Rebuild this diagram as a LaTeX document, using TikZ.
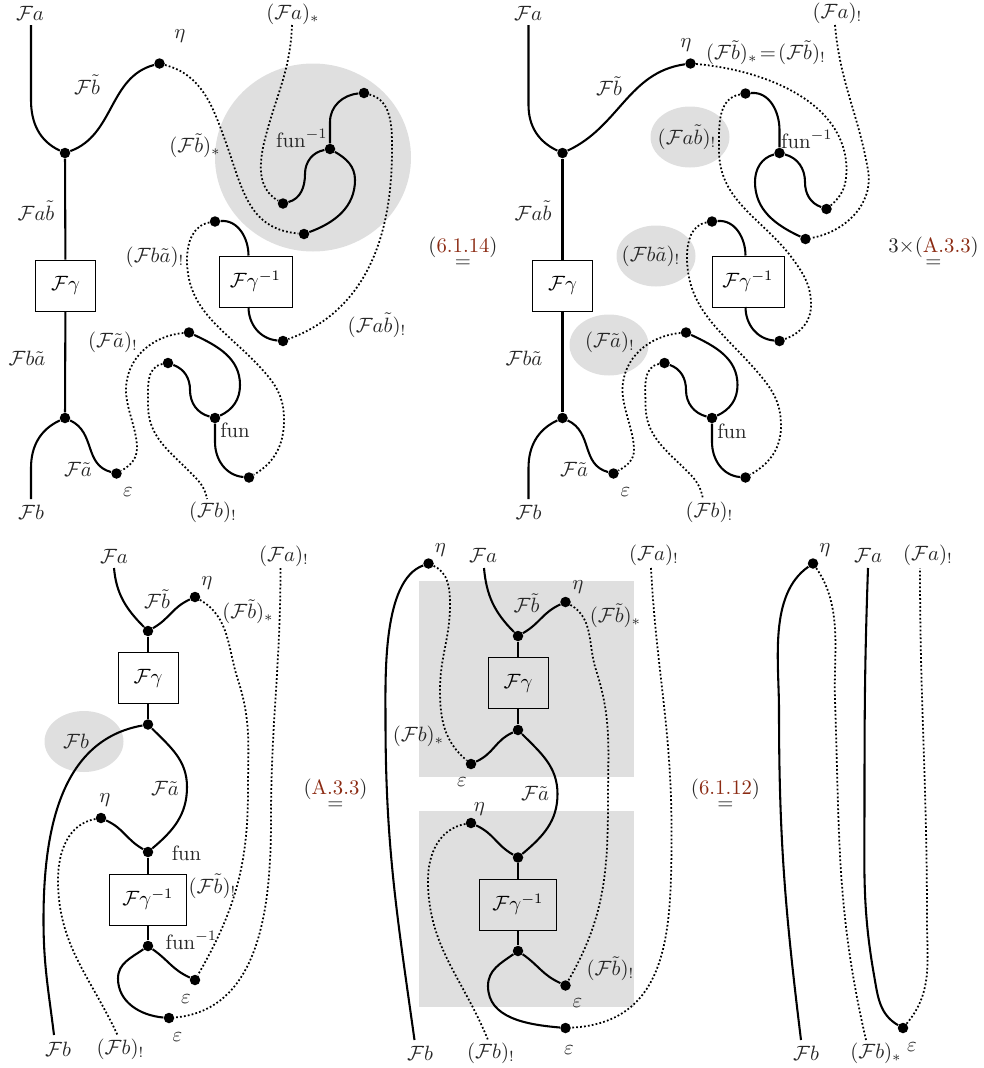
\documentclass[tikz,border=0pt]{standalone}
\usepackage{amsmath}
\usetikzlibrary{shapes.geometric}

\newcommand{\Ff}{\mathcal{F}}
\newcommand{\px}{0.483pt}
\definecolor{refred}{RGB}{139,42,18}

\tikzset{
  wire/.style={line width=1pt},
  dotwire/.style={line width=0.85pt, dash pattern=on 0.85pt off 1.05pt},
  dot/.style={circle, fill=black, inner sep=0pt, minimum size=10.5*\px},
  lab/.style={inner sep=0pt, text=black!85},
  blob/.style={ellipse, fill=gray!25, inner sep=0pt, minimum width=79*\px, minimum height=61*\px},
  eqn/.style={inner sep=0pt, align=center, text=black!85},
}

\begin{document}
\begin{tikzpicture}[x=\px, y=\px]
  \useasboundingbox (0,0) rectangle (983,-1068);

  % grey regions
  \node[blob, minimum width=196*\px, minimum height=188*\px] (acloud) at (313,-157.5) {};
  \node[blob] (bcloudi) at (690,-137) {};
  \node[blob] (bcloudii) at (656,-256) {};
  \node[blob] (bcloudiii) at (609,-345) {};
  \node[blob] (ccloud) at (84,-741.5) {};
  \fill[gray!25] (419,-581) rectangle (634,-777);
  \fill[gray!25] (419,-811) rectangle (634,-1007);

  % vertices
  \foreach \n/\x/\y in {
    avi/65/153, avii/65/418, aeta/159.5/63.5, aeps/116.5/473.5,
    afuninv/330/149, atop/364/93, aleft/283/203.5, abot/304/234,
    aup/215/221.5, adown/283/341, afun/215/418, acup/189/332.5, acupi/168/363, acap/249/477.5,
    bvi/562.5/153, bvii/562.5/418, beta/690.5/63.5, beps/613.5/473.5,
    bfuninv/779.5/153, btop/745.5/93.5, bright/826.5/209, bbot/805.5/239,
    bup/712/221.5, bdown/779.5/341, bfun/712/418, bcup/686/332.5, bcupi/664.5/363, bcap/745.5/477.5,
    cvi/148/631, ceta/195/597, cvii/148/724.5, cetai/101/818, cviii/148/852,
    cvv/148/946, cepsi/195/980, cepsii/169/1018,
    deta/428.5/563.5, dvi/518/636, detai/565.5/602, dvii/518/730, depsi/471/764,
    detaii/471/823, dviii/518/857.5, dvv/518/951, depsii/565.5/985.5, depsiii/565.5/1028,
    eeta/813/563.5, eeps/903/1028%
  } {
    \node[dot] (\n) at (\x,-\y) {};
  }

  % free ends of the strands
  \foreach \n/\x/\y in {
    aFa/31/25, aFb/31/499, aFas/292/25, aFbs/207/499, aboxup/248.5/255.5, aboxdn/248.5/307,
    bFa/528.5/25, bFb/528.5/499, bFas/835/25, bFbs/703/499, bboxup/745.5/255.5, bboxdn/745.5/307,
    cFa/114/568, cFas/280.5/568, cFb/54/1035, cFbs/117.5/1035,
    dFa/484/568, dFas/651/568, dFb/414.5/1040, dFbs/488/1040,
    eFa/868/568, eFas/920/568, eFb/801/1040, eFbs/866/1040%
  } {
    \coordinate (\n) at (\x,-\y);
  }

  % boxes
  \node[draw, minimum width=60*\px, minimum height=51*\px] (abox) at (65.5,-285.5) {$\Ff\gamma$};
  \node[draw, minimum width=73*\px, minimum height=51*\px] (aboxi) at (255.5,-281.5) {$\Ff\gamma^{-1}$};
  \node[draw, minimum width=60*\px, minimum height=51*\px] (bbox) at (562.5,-285.5) {$\Ff\gamma$};
  \node[draw, minimum width=72*\px, minimum height=51*\px] (bboxi) at (748,-281.5) {$\Ff\gamma^{-1}$};
  \node[draw, minimum width=60*\px, minimum height=51*\px] (cbox) at (148,-678) {$\Ff\gamma$};
  \node[draw, minimum width=77*\px, minimum height=51*\px] (cboxi) at (148,-899.5) {$\Ff\gamma^{-1}$};
  \node[draw, minimum width=60*\px, minimum height=51*\px] (dbox) at (518,-683) {$\Ff\gamma$};
  \node[draw, minimum width=77*\px, minimum height=51*\px] (dboxi) at (518,-904.5) {$\Ff\gamma^{-1}$};

  % first picture
  \draw[wire] (aFa) -- (31,-100) to[out=-90,in=155] (avi);
  \draw[wire] (avi) to[out=20,in=195] (aeta);
  \draw[wire] (avi) -- (abox);
  \draw[wire] (abox) -- (avii);
  \draw[wire] (aFb) -- (31,-468) to[out=90,in=205] (avii);
  \draw[wire] (avii) to[out=-25,in=165,looseness=1.1] (aeps);
  \draw[wire] (afuninv) -- (330,-122) to[out=90,in=185] (atop);
  \draw[wire] (afuninv) to[out=190,in=90] (305,-174) to[out=-90,in=15] (aleft);
  \draw[wire] (afuninv) to[out=-30,in=90] (355,-180) to[out=-90,in=20] (abot);
  \draw[wire] (aup) to[out=5,in=90] (aboxup);
  \draw[wire] (aboxdn) to[out=-90,in=175] (adown);
  \draw[wire] (acup) to[out=-25,in=90] (240,-385) to[out=-90,in=25] (afun);
  \draw[wire] (acupi) to[out=-20,in=90] (190,-390) to[out=-90,in=165] (afun);
  \draw[wire] (afun) -- (215,-442) to[out=-90,in=175] (acap);
  \draw[dotwire] (aeta) to[out=-15,in=110] (225,-140) to[out=-70,in=175,looseness=1.1] (abot);
  \draw[dotwire] (aFas) to[out=-92,in=75] (266,-135) to[out=-105,in=150] (aleft);
  \draw[dotwire] (atop) to[out=-15,in=90] (392,-150) to[out=-90,in=20] (adown);
  \draw[dotwire] (aup) to[out=190,in=90] (187,-260) to[out=-90,in=130] (267,-375) to[out=-50,in=90] (284,-420) to[out=-90,in=30] (acap);
  \draw[dotwire] (acup) to[out=185,in=90] (126,-390) to[out=-90,in=90,looseness=.8] (137,-448) to[out=-90,in=30] (aeps);
  \draw[dotwire] (acupi) to[out=190,in=90] (148,-405) to[out=-90,in=135] (190,-472) to[out=-45,in=100] (aFbs);

  % second picture
  \draw[wire] (bFa) -- (528.5,-105) to[out=-90,in=155] (bvi);
  \draw[wire] (bvi) to[out=25,in=188] (beta);
  \draw[wire] (bvi) -- (bbox);
  \draw[wire] (bbox) -- (bvii);
  \draw[wire] (bFb) -- (528.5,-468) to[out=90,in=205] (bvii);
  \draw[wire] (bvii) to[out=-25,in=165,looseness=1.1] (beps);
  \draw[wire] (btop) to[out=5,in=90] (779.5,-130) -- (bfuninv);
  \draw[wire] (bfuninv) to[out=-15,in=90] (805,-182) to[out=-90,in=160] (bright);
  \draw[wire] (bfuninv) to[out=195,in=90] (755,-182) to[out=-90,in=155] (bbot);
  \draw[wire] (bup) to[out=5,in=90] (bboxup);
  \draw[wire] (bboxdn) to[out=-90,in=175] (bdown);
  \draw[wire] (bcup) to[out=-25,in=90] (737.5,-385) to[out=-90,in=25] (bfun);
  \draw[wire] (bcupi) to[out=-20,in=90] (686,-390) to[out=-90,in=165] (bfun);
  \draw[wire] (bfun) -- (712,-442) to[out=-90,in=175] (bcap);
  \draw[dotwire] (beta) to[out=-5,in=90,looseness=.95] (846.5,-170) to[out=-90,in=40] (bright);
  \draw[dotwire] (bFas) to[out=-85,in=100] (868,-170) to[out=-80,in=10] (bbot);
  \draw[dotwire] (btop) to[out=190,in=90] (719,-150) to[out=-90,in=125] (795,-262) to[out=-55,in=90] (811,-305) to[out=-90,in=20] (bdown);
  \draw[dotwire] (bup) to[out=190,in=90] (687,-257) to[out=-90,in=130] (760,-375) to[out=-50,in=90] (781,-426) to[out=-90,in=30] (bcap);
  \draw[dotwire] (bcup) to[out=185,in=90] (622.5,-390) to[out=-90,in=90,looseness=.8] (634,-450) to[out=-90,in=30] (beps);
  \draw[dotwire] (bcupi) to[out=190,in=90] (645.5,-405) to[out=-90,in=135] (688,-472) to[out=-45,in=100] (bFbs);

  % third picture
  \draw[wire] (cFa) to[out=-85,in=135] (cvi);
  \draw[wire] (cvi) to[out=30,in=205,looseness=1.1] (ceta);
  \draw[wire] (cvi) -- (cbox);
  \draw[wire] (cbox) -- (cvii);
  \draw[wire] (cvii) to[out=190,in=90] (43.5,-920) to[out=-90,in=97] (cFb);
  \draw[wire] (cvii) to[out=-45,in=90] (187,-787) to[out=-90,in=40] (cviii);
  \draw[wire] (cetai) to[out=-25,in=150,looseness=1.1] (cviii);
  \draw[wire] (cviii) -- (cboxi);
  \draw[wire] (cboxi) -- (cvv);
  \draw[wire] (cvv) to[out=-35,in=155,looseness=1.1] (cepsi);
  \draw[wire] (cvv) to[out=215,in=90] (118,-978.5) to[out=-90,in=175] (cepsii);
  \draw[dotwire] (ceta) to[out=-30,in=108] (238,-680) to[out=-72,in=90] (248,-790) to[out=-90,in=60] (cepsi);
  \draw[dotwire] (cFas) to[out=-90,in=90] (271,-820) to[out=-90,in=5] (cepsii);
  \draw[dotwire] (cetai) to[out=190,in=90] (58,-880) to[out=-90,in=115] (cFbs);

  % fourth picture
  \draw[wire] (deta) to[out=200,in=90,looseness=.7] (385.5,-720) to[out=-90,in=98] (dFb);
  \draw[wire] (dFa) to[out=-85,in=135] (dvi);
  \draw[wire] (dvi) to[out=30,in=205,looseness=1.1] (detai);
  \draw[wire] (dvi) -- (dbox);
  \draw[wire] (dbox) -- (dvii);
  \draw[wire] (dvii) to[out=205,in=25,looseness=1.1] (depsi);
  \draw[wire] (dvii) to[out=-45,in=90] (557.5,-794) to[out=-90,in=40] (dviii);
  \draw[wire] (detaii) to[out=-25,in=150,looseness=1.1] (dviii);
  \draw[wire] (dviii) -- (dboxi);
  \draw[wire] (dboxi) -- (dvv);
  \draw[wire] (dvv) to[out=-35,in=155,looseness=1.1] (depsii);
  \draw[wire] (dvv) to[out=215,in=90] (488,-986) to[out=-90,in=175] (depsiii);
  \draw[dotwire] (deta) to[out=-25,in=90] (450,-605) to[out=-90,in=90] (440,-690) to[out=-90,in=140] (depsi);
  \draw[dotwire] (detai) to[out=-30,in=108] (596,-670) to[out=-72,in=90] (608,-800) to[out=-90,in=60] (depsii);
  \draw[dotwire] (dFas) to[out=-87,in=90] (671.5,-830) to[out=-90,in=3,looseness=1.15] (depsiii);
  \draw[dotwire] (detaii) to[out=190,in=90] (428,-880) to[out=-90,in=112] (dFbs);

  % fifth picture
  \draw[wire] (eeta) to[out=215,in=90,looseness=.85] (779,-710) to[out=-90,in=97] (eFb);
  \draw[wire] (eFa) to[out=-92,in=90] (864.5,-800) to[out=-90,in=100] (874,-975) to[out=-80,in=150] (eeps);
  \draw[dotwire] (eeta) to[out=-55,in=92,looseness=.9] (835,-700) to[out=-88,in=103] (eFbs);
  \draw[dotwire] (eeps) to[out=50,in=-90] (927,-920) to[out=90,in=-90] (eFas);

  % labels, first picture
  \node[lab] (laFa) at (30,-13) {$\Ff a$};
  \node[lab] (laeta) at (180,-36.5) {$\eta$};
  \node[lab] (laFas) at (293,-14) {$(\Ff a)_*$};
  \node[lab] (laFtb) at (87,-84.5) {$\Ff\tilde b$};
  \node[lab] (laFbts) at (195,-145.5) {$(\Ff\tilde b)_*$};
  \node[lab] (lafuninv) at (302,-138.5) {$\mathrm{fun}^{-1}$};
  \node[lab] (laFab) at (36,-210.5) {$\Ff a\tilde b$};
  \node[lab] (laFba) at (155,-257) {$(\Ff b\tilde a)_!$};
  \node[lab] (laFabs) at (377,-325) {$(\Ff a\tilde b)_!$};
  \node[lab] (laFat) at (113,-342.5) {$(\Ff\tilde a)_!$};
  \node[lab] (laFbb) at (27,-358.5) {$\Ff b\tilde a$};
  \node[lab] (lafun) at (235,-430.5) {$\mathrm{fun}$};
  \node[lab] (laFta) at (78,-469.5) {$\Ff\tilde a$};
  \node[lab] (laeps) at (128,-492) {$\varepsilon$};
  \node[lab] (laFb) at (31,-512.5) {$\Ff b$};
  \node[lab] (laFbe) at (213,-512.5) {$(\Ff b)_!$};

  % labels, second picture
  \node[lab] (lbFa) at (528,-13) {$\Ff a$};
  \node[lab] (lbeta) at (686,-45) {$\eta$};
  \node[lab] (lbFas) at (837.5,-13) {$(\Ff a)_!$};
  \node[lab] (lbeq) at (766,-52.5) {$(\Ff\tilde b)_*\!=\!(\Ff\tilde b)_!$};
  \node[lab] (lbFtb) at (609,-86) {$\Ff\tilde b$};
  \node[lab] (lbFabs) at (687,-137) {$(\Ff a\tilde b)_!$};
  \node[lab] (lbfuninv) at (807,-139.5) {$\mathrm{fun}^{-1}$};
  \node[lab] (lbFab) at (533,-210.5) {$\Ff a\tilde b$};
  \node[lab] (lbFba) at (651,-256) {$(\Ff b\tilde a)_!$};
  \node[lab] (lbFat) at (610,-342.5) {$(\Ff\tilde a)_!$};
  \node[lab] (lbFbb) at (524,-358.5) {$\Ff b\tilde a$};
  \node[lab] (lbfun) at (732,-431) {$\mathrm{fun}$};
  \node[lab] (lbFta) at (574,-469.5) {$\Ff\tilde a$};
  \node[lab] (lbeps) at (625.5,-492.5) {$\varepsilon$};
  \node[lab] (lbFb) at (528.5,-512.5) {$\Ff b$};
  \node[lab] (lbFbe) at (709.5,-512.5) {$(\Ff b)_!$};

  % labels, third picture
  \node[lab] (lcFa) at (114,-556) {$\Ff a$};
  \node[lab] (lceta) at (207,-583) {$\eta$};
  \node[lab] (lcFas) at (284,-556) {$(\Ff a)_!$};
  \node[lab] (lcFtb) at (157,-599) {$\Ff\tilde b$};
  \node[lab] (lcFbts) at (248,-611.5) {$(\Ff\tilde b)_*$};
  \node[lab] (lcFb) at (76,-741.5) {$\Ff b$};
  \node[lab] (lcFta) at (165,-788.5) {$\Ff\tilde a$};
  \node[lab] (lcetai) at (105,-800) {$\eta$};
  \node[lab] (lcfun) at (186.5,-853) {$\mathrm{fun}$};
  \node[lab] (lcFbte) at (212.5,-886) {$(\Ff\tilde b)_!$};
  \node[lab] (lcfuninv) at (191.5,-940) {$\mathrm{fun}^{-1}$};
  \node[lab] (lcepsi) at (186,-999) {$\varepsilon$};
  \node[lab] (lcepsii) at (177.5,-1037) {$\varepsilon$};
  \node[lab] (lcFbb) at (58,-1049) {$\Ff b$};
  \node[lab] (lcFbe) at (120.5,-1049) {$(\Ff b)_!$};

  % labels, fourth picture
  \node[lab] (ldeta) at (440.5,-550.5) {$\eta$};
  \node[lab] (ldFa) at (483,-555.5) {$\Ff a$};
  \node[lab] (ldFas) at (654,-555.5) {$(\Ff a)_!$};
  \node[lab] (ldetai) at (578,-587.5) {$\eta$};
  \node[lab] (ldFtb) at (526.5,-603) {$\Ff\tilde b$};
  \node[lab] (ldFbts) at (615.5,-615.5) {$(\Ff\tilde b)_*$};
  \node[lab] (ldFbs) at (418.5,-736.5) {$(\Ff b)_*$};
  \node[lab] (ldepsi) at (462,-782.5) {$\varepsilon$};
  \node[lab] (ldFta) at (535,-793.5) {$\Ff\tilde a$};
  \node[lab] (ldetaii) at (479.5,-809) {$\eta$};
  \node[lab] (ldFbte) at (610.5,-968.5) {$(\Ff\tilde b)_!$};
  \node[lab] (ldepsii) at (577.5,-1003.5) {$\varepsilon$};
  \node[lab] (ldepsiii) at (569,-1050.5) {$\varepsilon$};
  \node[lab] (ldFbb) at (420,-1053) {$\Ff b$};
  \node[lab] (ldFbe) at (491,-1053) {$(\Ff b)_!$};

  % labels, fifth picture
  \node[lab] (leeta) at (825,-550.5) {$\eta$};
  \node[lab] (leFa) at (868,-555.5) {$\Ff a$};
  \node[lab] (leFas) at (928,-555.5) {$(\Ff a)_!$};
  \node[lab] (leFb) at (806,-1053) {$\Ff b$};
  \node[lab] (leFbs) at (876,-1053) {$(\Ff b)_*$};
  \node[lab] (leeps) at (912,-1047) {$\varepsilon$};

  % equalities
  \node[eqn] (eqi) at (463,-252) {(\textcolor{refred}{6.1.14})\\[-5pt]$=$};
  \node[eqn] (eqii) at (933.5,-252) {3$\times$(\textcolor{refred}{A.3.3})\\[-5pt]$=$};
  \node[eqn] (eqiii) at (335.5,-794) {(\textcolor{refred}{A.3.3})\\[-5pt]$=$};
  \node[eqn] (eqiv) at (725.5,-794) {(\textcolor{refred}{6.1.12})\\[-5pt]$=$};
\end{tikzpicture}
\end{document}
